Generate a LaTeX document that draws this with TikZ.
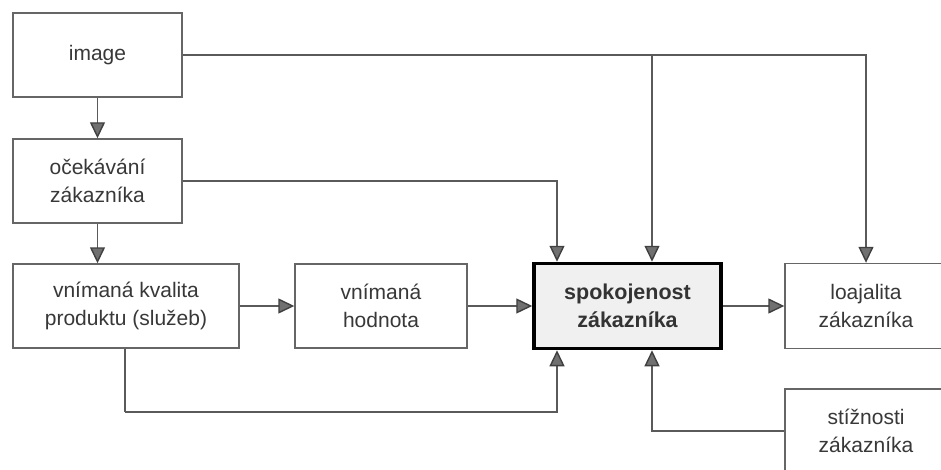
\documentclass[tikz,border=0pt]{standalone}
\usepackage{fontspec}
\setmainfont{Liberation Sans}
\usetikzlibrary{arrows.meta}
\definecolor{boxline}{HTML}{666666}
\definecolor{conn}{HTML}{5A5A5A}
\definecolor{tipfill}{HTML}{707070}
\definecolor{tipline}{HTML}{404040}
\definecolor{txt}{HTML}{383838}
\begin{document}
\begin{tikzpicture}[x=1pt,y=-1pt,
  box/.style={draw=boxline,line width=1.4pt,fill=white,align=center,inner sep=0pt,
    text=txt,font=\fontsize{21}{28.5}\selectfont},
  mainbox/.style={draw=black,line width=3.5pt,fill=black!6,align=center,inner sep=0pt,
    text=black!80,font=\fontsize{21.5}{28.5}\selectfont\bfseries},
  arr/.style={draw=conn,line width=1.4pt,
    -{Triangle[length=16pt,width=15pt,fill=tipfill,color=tipline]}},
  ln/.style={draw=conn,line width=1.4pt}]
\useasboundingbox (0,0) rectangle (941,470);
\clip (0,0) rectangle (941,470);

\node[box,minimum width=169pt,minimum height=84pt] (image) at (97.5,55) {image};
\node[box,minimum width=169pt,minimum height=84pt] (ocek) at (97.5,181) {očekávání\\zákazníka};
\node[box,minimum width=226pt,minimum height=84pt] (kval) at (126,306) {vnímaná kvalita\\produktu (služeb)};
\node[box,minimum width=172pt,minimum height=84pt] (hodn) at (381,306) {vnímaná\\hodnota};
\node[mainbox,minimum width=187pt,minimum height=85pt] (spok) at (627.5,306) {spokojenost\\zákazníka};
\node[box,minimum width=162pt,minimum height=85pt] (loaj) at (866,306) {loajalita\\zákazníka};
\node[box,minimum width=162pt,minimum height=84pt] (stiz) at (866,431) {stížnosti\\zákazníka};

\coordinate (sL) at (557,0);
\coordinate (sR) at (652,0);
\coordinate (kb) at (125,412);

\draw[arr] (image.south) -- (ocek.north);
\draw[arr] (ocek.south) -- (ocek.south |- kval.north);
\draw[arr] (kval.east) -- (hodn.west);
\draw[arr] (hodn.east) -- (spok.west);
\draw[arr] (spok.east) -- (loaj.west);
\draw[arr] (image.east) -| (loaj.north);
\draw[arr] (image.east -| sR) -- (spok.north -| sR);
\draw[arr] (ocek.east) -| (spok.north -| sL);
\draw[ln] (kval.south -| kb) -- (kb);
\draw[arr] (kb) -| (spok.south -| sL);
\draw[arr] (stiz.west) -| (spok.south -| sR);
\end{tikzpicture}
\end{document}
